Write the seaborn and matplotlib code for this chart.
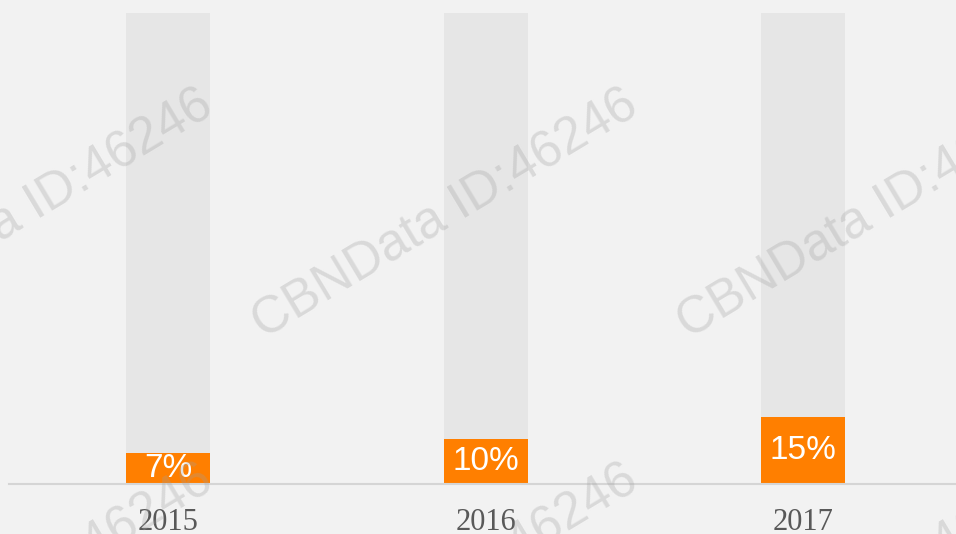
import matplotlib
matplotlib.use("Agg")
import matplotlib.pyplot as plt
import seaborn as sns
import pandas as pd

years = ["2015", "2016", "2017"]
shares = [7, 10, 15]
track = [105, 105, 105]
labels = ["7%", "10%", "15%"]

orange = "#ff7f00"
bg = "#f2f2f2"

sns.set_theme(style="white")

fig = plt.figure(figsize=(9.56, 5.34), dpi=100, facecolor=bg)
ax = fig.add_axes([9.25 / 956, 50 / 534, (962 - 9.25) / 956, 471 / 534])
ax.set_facecolor("none")

df = pd.DataFrame({"year": years, "share": shares, "track": track})
sns.barplot(data=df, x="year", y="track", color="#e6e6e6", width=0.265,
            saturation=1, linewidth=0, edgecolor="none", ax=ax, zorder=1)
sns.barplot(data=df, x="year", y="share", color=orange, width=0.265,
            saturation=1, linewidth=0, edgecolor="none", ax=ax, zorder=2)

for i, (v, lab) in enumerate(zip(shares, labels)):
    ax.text(i, v / 2, lab, ha="center", va="center", color="white",
            fontsize=24, family="Liberation Sans", zorder=3)

ax.set_xlim(-0.5, 2.5)
ax.set_ylim(0, 105)
ax.set_xlabel("")
ax.set_ylabel("")
ax.set_yticks([])
for s in ["top", "right", "left"]:
    ax.spines[s].set_visible(False)
ax.spines["bottom"].set_color("#d5d5d5")
ax.spines["bottom"].set_linewidth(1.5)
ax.tick_params(axis="x", length=0, pad=17, labelsize=22, labelcolor="#595959")
for t in ax.get_xticklabels():
    t.set_fontfamily("Liberation Serif")

# watermark
for cx, cy in [(20, 215), (445, 215), (870, 215), (20, 590), (445, 590), (870, 590)]:
    fig.text(cx / 956, 1 - cy / 534, "CBNData ID:46246", rotation=31,
             rotation_mode="anchor", ha="center", va="center", fontsize=37,
             family="Liberation Sans", color="#a0a0a0", alpha=0.3, zorder=10)

fig.savefig("out.png", dpi=100, facecolor=bg)
